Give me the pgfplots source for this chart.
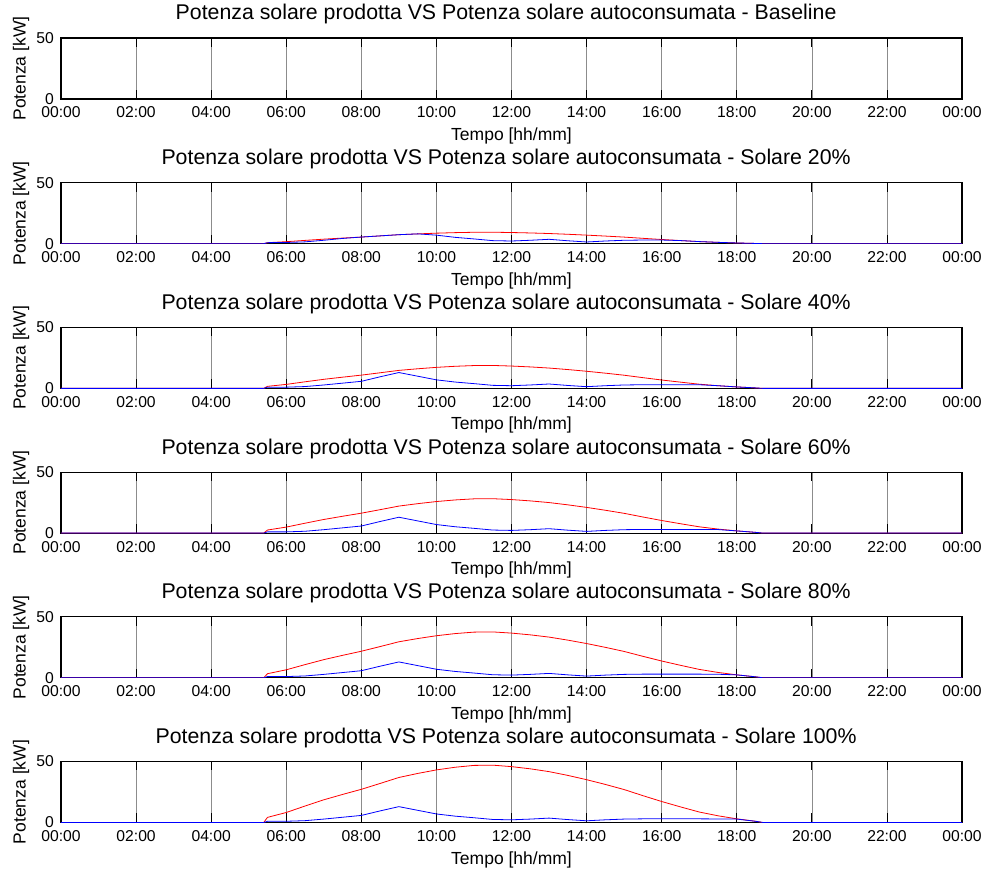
\documentclass[border=0pt]{standalone}
\usepackage{pgfplots}
\pgfplotsset{compat=1.18}
\usepackage{pgfplotstable}
\usepackage{fontspec}
\setmainfont{Liberation Sans}

\pgfplotstableread{
t    rA    bA    rB    bB    rC    bC    rD    bD    rE    bE
0    0     0     0     0     0     0     0     0     0     0
5.4  0     0     0     0     0     0     0     0     0     0
5.5  0.84  0.84  1.68  1.0   2.52  1.0   3.36  1.0   4.2   1.0
6.0  1.64  1.0   3.28  1.0   4.92  1.0   6.56  1.0   8.2   1.0
6.5  2.7   1.5   5.4   1.5   8.1   1.5   10.8  1.5   13.5  1.5
7.0  3.72  2.8   7.44  2.8   11.16 2.8   14.88 2.8   18.6  2.8
7.5  4.6   4.3   9.2   4.3   13.8  4.3   18.4  4.3   23.0  4.3
8.0  5.44  5.44  10.88 5.8   16.32 5.8   21.76 5.8   27.2  5.8
8.5  6.4   6.4   12.8  9.5   19.2  9.5   25.6  9.5   32.0  9.5
9.0  7.38  7.38  14.76 13.0  22.14 13.0  29.52 13.0  36.9  13.0
9.5  8.04  8.04  16.08 10.0  24.12 10.0  32.16 10.0  40.2  10.0
10.0 8.62  7.0   17.24 7.0   25.86 7.0   34.48 7.0   43.1  7.0
10.5 9.06  5.2   18.12 5.2   27.18 5.2   36.24 5.2   45.3  5.2
11.0 9.36  3.9   18.72 3.9   28.08 3.9   37.44 3.9   46.8  3.9
11.5 9.4   2.5   18.8  2.5   28.2  2.5   37.6  2.5   47.0  2.5
12.0 9.16  2.2   18.32 2.2   27.48 2.2   36.64 2.2   45.8  2.2
12.5 8.8   2.8   17.6  2.8   26.4  2.8   35.2  2.8   44.0  2.8
13.0 8.34  3.6   16.68 3.6   25.02 3.6   33.36 3.6   41.7  3.6
13.5 7.72  2.4   15.44 2.4   23.16 2.4   30.88 2.4   38.6  2.4
14.0 7.02  1.4   14.04 1.4   21.06 1.4   28.08 1.4   35.1  1.4
14.5 6.24  2.2   12.48 2.2   18.72 2.2   24.96 2.2   31.2  2.2
15.0 5.4   2.8   10.8  2.8   16.2  2.8   21.6  2.8   27.0  2.8
15.5 4.4   3.0   8.8   3.0   13.2  3.0   17.6  3.0   22.0  3.0
16.0 3.44  3.0   6.88  3.0   10.32 3.0   13.76 3.0   17.2  3.0
16.5 2.56  2.56  5.12  3.0   7.68  3.0   10.24 3.0   12.8  3.0
17.0 1.72  1.72  3.44  3.0   5.16  3.0   6.88  3.0   8.6   3.0
17.5 1.1   1.1   2.2   2.2   3.3   2.9   4.4   2.9   5.5   2.9
18.0 0.6   0.6   1.2   1.2   1.8   1.8   2.4   2.4   3.0   2.8
18.5 0.2   0.2   0.4   0.4   0.6   0.6   0.8   0.8   1.0   1.0
18.7 0     0     0     0     0     0     0     0     0     0
24   0     0     0     0     0     0     0     0     0     0
}\solare

\pgfplotsset{
  panel/.style={
    scale only axis, width=901pt, height=61pt,
    xmin=0, xmax=24, ymin=0, ymax=50,
    xtick={0,2,...,24},
    xticklabels={00:00,02:00,04:00,06:00,08:00,10:00,12:00,14:00,16:00,18:00,20:00,22:00,00:00},
    ytick={0,50},
    tick align=inside,
    major tick length=9pt,
    tick style={black, line width=0.7pt},
    axis line style={black, line width=1.1pt},
    xmajorgrids,
    major grid style={black!45, line width=0.6pt},
    /pgf/number format/assume math mode=true,
    ticklabel style={font=\fontsize{15.7}{18}\selectfont},
    xticklabel style={anchor=base, inner sep=0pt, yshift=-19pt},
    yticklabel style={anchor=east, inner sep=0pt, xshift=-7pt},
    ylabel={Potenza [kW]},
    xlabel={Tempo [hh/mm]},
    label style={font=\fontsize{17.5}{20}\selectfont},
    xlabel style={at={(axis description cs:0.5,-0.607)}, anchor=center},
    ylabel style={at={(axis description cs:-0.0444,0.5)}, anchor=center},
    title style={font=\fontsize{21.3}{24}\selectfont, at={(axis description cs:0.494,1)}, anchor=base, yshift=12pt},
    anchor=south west,
  },
  rline/.style={red, line width=0.8pt},
  bline/.style={blue, line width=0.8pt},
}

\begin{document}
\begin{tikzpicture}
\useasboundingbox (0pt,0pt) rectangle (982pt,869pt);

\begin{axis}[panel, at={(61pt,770pt)}, title={Potenza solare prodotta VS Potenza solare autoconsumata - Baseline}]
\addplot[rline] coordinates {(0,0) (24,0)};
\addplot[bline] coordinates {(0,0) (24,0)};
\end{axis}

\begin{axis}[panel, at={(61pt,625.3pt)}, title={Potenza solare prodotta VS Potenza solare autoconsumata - Solare 20\%}]
\addplot[rline] table[x=t,y=rA] {\solare};
\addplot[bline] table[x=t,y=bA] {\solare};
\end{axis}

\begin{axis}[panel, at={(61pt,480.6pt)}, title={Potenza solare prodotta VS Potenza solare autoconsumata - Solare 40\%}]
\addplot[rline] table[x=t,y=rB] {\solare};
\addplot[bline] table[x=t,y=bB] {\solare};
\end{axis}

\begin{axis}[panel, at={(61pt,335.9pt)}, title={Potenza solare prodotta VS Potenza solare autoconsumata - Solare 60\%}]
\addplot[rline] table[x=t,y=rC] {\solare};
\addplot[bline] table[x=t,y=bC] {\solare};
\end{axis}

\begin{axis}[panel, at={(61pt,191.2pt)}, title={Potenza solare prodotta VS Potenza solare autoconsumata - Solare 80\%}]
\addplot[rline] table[x=t,y=rD] {\solare};
\addplot[bline] table[x=t,y=bD] {\solare};
\end{axis}

\begin{axis}[panel, at={(61pt,46.5pt)}, title={Potenza solare prodotta VS Potenza solare autoconsumata - Solare 100\%}]
\addplot[rline] table[x=t,y=rE] {\solare};
\addplot[bline] table[x=t,y=bE] {\solare};
\end{axis}
\end{tikzpicture}
\end{document}
